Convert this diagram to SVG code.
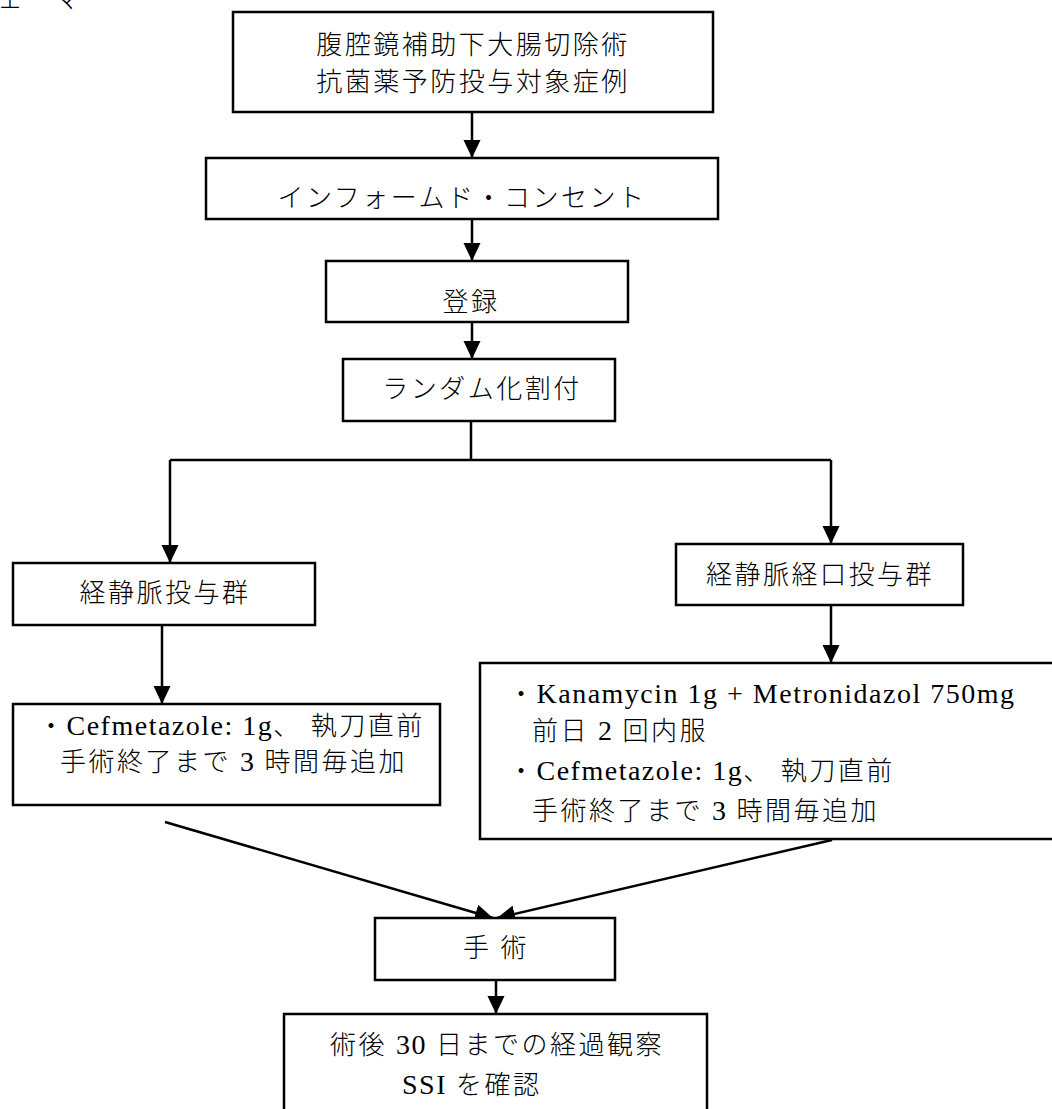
<svg xmlns="http://www.w3.org/2000/svg" width="1052" height="1109" viewBox="0 0 1052 1109">
<style>
.box{fill:#fff;stroke:#000;stroke-width:2.5}
.t{font-family:"Liberation Serif","Noto Sans CJK JP",serif;font-size:26px;fill:#000;font-weight:300;letter-spacing:2.5px}
.l{font-size:28px;letter-spacing:1.5px}
.c{text-anchor:middle}
.ln{stroke:#000;stroke-width:2.5;fill:none}
</style>
<defs>
<marker id="ah" markerUnits="userSpaceOnUse" markerWidth="20" markerHeight="18" refX="18" refY="8.5" orient="auto">
<path d="M0,0 L18,8.5 L0,17 Z" fill="#000"/>
</marker>
</defs>
<text class="t" x="-3" y="8">ェーマ</text>
<g id="connectors">
<line class="ln" x1="472" y1="112" x2="472" y2="158" marker-end="url(#ah)"/>
<line class="ln" x1="472" y1="219" x2="472" y2="261" marker-end="url(#ah)"/>
<line class="ln" x1="472" y1="322" x2="472" y2="359" marker-end="url(#ah)"/>
<polyline class="ln" points="471,421 471,460"/>
<polyline class="ln" points="170,460 831,460"/>
<line class="ln" x1="170" y1="460" x2="170" y2="563" marker-end="url(#ah)"/>
<line class="ln" x1="831" y1="460" x2="831" y2="544" marker-end="url(#ah)"/>
<line class="ln" x1="162" y1="625" x2="162" y2="704" marker-end="url(#ah)"/>
<line class="ln" x1="831" y1="605" x2="831" y2="663" marker-end="url(#ah)"/>
<line class="ln" x1="165" y1="822" x2="493" y2="918" marker-end="url(#ah)"/>
<line class="ln" x1="832" y1="840" x2="497" y2="918" marker-end="url(#ah)"/>
<line class="ln" x1="496" y1="980" x2="496" y2="1014" marker-end="url(#ah)"/>
</g>
<g id="n1"><rect class="box" x="233" y="12" width="480" height="100"/>
<text class="t c" x="473" y="54">腹腔鏡補助下大腸切除術</text>
<text class="t c" x="473" y="91">抗菌薬予防投与対象症例</text></g>
<g id="n2"><rect class="box" x="206" y="158" width="512" height="61"/>
<text class="t c" x="462" y="207">インフォームド・コンセント</text></g>
<g id="n3"><rect class="box" x="326" y="261" width="302" height="61"/>
<text class="t c" x="471" y="311">登録</text></g>
<g id="n4"><rect class="box" x="343" y="359" width="272" height="62"/>
<text class="t c" x="482" y="398">ランダム化割付</text></g>
<g id="n5"><rect class="box" x="13" y="563" width="302" height="62"/>
<text class="t c" x="165" y="602">経静脈投与群</text></g>
<g id="n6"><rect class="box" x="676" y="544" width="287" height="61"/>
<text class="t c" x="820" y="584">経静脈経口投与群</text></g>
<g id="n7"><rect class="box" x="13" y="704" width="427" height="101"/>
<text class="t" x="38" y="735">・<tspan class="l">Cefmetazole: 1g</tspan>、 執刀直前</text>
<text class="t" x="60" y="771">手術終了まで <tspan class="l">3</tspan> 時間毎追加</text></g>
<g id="n8"><rect class="box" x="480" y="663" width="590" height="176"/>
<text class="t" x="508" y="703">・<tspan class="l">Kanamycin 1g + Metronidazol 750mg</tspan></text>
<text class="t" x="532" y="740">前日 <tspan class="l">2</tspan> 回内服</text>
<text class="t" x="508" y="780">・<tspan class="l">Cefmetazole: 1g</tspan>、 執刀直前</text>
<text class="t" x="532" y="820">手術終了まで <tspan class="l">3</tspan> 時間毎追加</text></g>
<g id="n9"><rect class="box" x="375" y="918" width="240" height="62"/>
<text class="t c" x="496" y="957">手 術</text></g>
<g id="n10"><rect class="box" x="284" y="1014" width="423" height="110"/>
<text class="t c" x="497" y="1054">術後 <tspan class="l">30</tspan> 日までの経過観察</text>
<text class="t" x="402" y="1094"><tspan class="l">SSI</tspan> を確認</text></g>
</svg>
